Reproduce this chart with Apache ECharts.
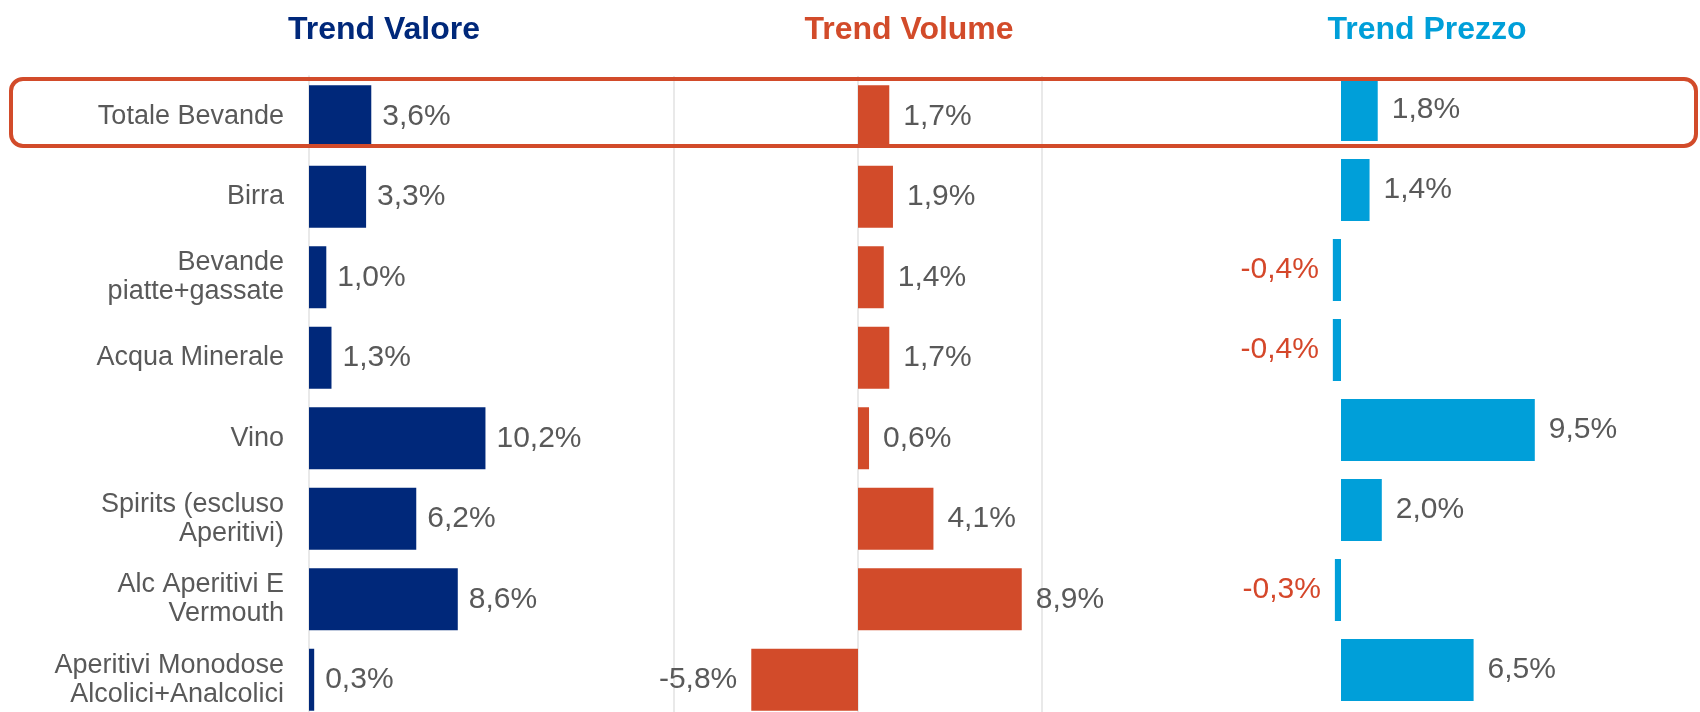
<!DOCTYPE html>
<html>
<head>
<meta charset="utf-8">
<script src="https://cdn.jsdelivr.net/npm/echarts@6/dist/echarts.min.js"></script>
<style>
  html, body { margin: 0; padding: 0; background: #fff; overflow: hidden; }
  /* il grafico sborda in basso come nell'originale: il contenitore e' piu' alto della pagina */
  #main { width: 1700px; height: 730px; }
</style>
</head>
<body>
<div id="main"></div>
<script>
// categorie e valori (%)
var categorie = ['Totale Bevande', 'Birra', 'Bevande\npiatte+gassate', 'Acqua Minerale', 'Vino',
  'Spirits (escluso\nAperitivi)', 'Alc Aperitivi E\nVermouth', 'Aperitivi Monodose\nAlcolici+Analcolici'];
var trendValore = [3.6, 3.3, 1.0, 1.3, 10.2, 6.2, 8.6, 0.3];
var trendVolume = [1.7, 1.9, 1.4, 1.7, 0.6, 4.1, 8.9, -5.8];
var trendPrezzo = [1.8, 1.4, -0.4, -0.4, 9.5, 2.0, -0.3, 6.5];
var titoli = ['Trend Valore', 'Trend Volume', 'Trend Prezzo'];

var FONT = "'Liberation Sans', Arial, sans-serif";
var GRIGIO = '#595959';
var colori = ['#00287a', '#d24b2a', '#009fd9'];

function fmt(v) {
  return v.toFixed(1).replace('.', ',') + '%';
}

// per i negativi etichetta a sinistra
function dati(arr, coloreNeg) {
  return arr.map(function (v) {
    return {
      value: v,
      label: {
        position: v < 0 ? 'left' : 'right',
        color: v < 0 && coloreNeg ? coloreNeg : GRIGIO
      }
    };
  });
}

var myChart = echarts.init(document.getElementById('main'));

function titolo(i, x) {
  return { text: titoli[i], left: x, top: 14, textAlign: 'center', padding: 0,
    textStyle: { color: colori[i], fontSize: 32, fontWeight: 'bold', fontFamily: FONT } };
}

var option = {
  backgroundColor: '#fff',
  animation: false,
  title: [titolo(0, 384), titolo(1, 909), titolo(2, 1427)],
  grid: [
    { left: 309, top: 76, width: 346, height: 644 },
    { left: 674, top: 76, width: 368, height: 644 },
    { left: 1239, top: 70, width: 306, height: 640 }
  ],
  xAxis: [
    { gridIndex: 0, type: 'value', min: 0, max: 20,
      axisLine: { show: false }, axisTick: { show: false }, axisLabel: { show: false },
      splitLine: { show: false } },
    { gridIndex: 1, type: 'value', min: -10, max: 10, interval: 10,
      axisLine: { show: false }, axisTick: { show: false }, axisLabel: { show: false },
      splitLine: { show: true, lineStyle: { color: '#e2e2e2', width: 1.5 } } },
    { gridIndex: 2, type: 'value', min: -5, max: 10,
      axisLine: { show: false }, axisTick: { show: false }, axisLabel: { show: false },
      splitLine: { show: false } }
  ],
  yAxis: [
    { gridIndex: 0, type: 'category', data: categorie, inverse: true,
      axisLine: { show: true, lineStyle: { color: '#e2e2e2', width: 1.5 } },
      axisTick: { show: false },
      axisLabel: { color: GRIGIO, fontSize: 27, fontFamily: FONT, margin: 25, lineHeight: 29, align: 'right' } },
    { gridIndex: 1, type: 'category', data: categorie, inverse: true,
      axisLine: { show: false }, axisTick: { show: false }, axisLabel: { show: false } },
    { gridIndex: 2, type: 'category', data: categorie, inverse: true,
      axisLine: { show: false }, axisTick: { show: false }, axisLabel: { show: false } }
  ],
  series: [
    { name: titoli[0], type: 'bar', xAxisIndex: 0, yAxisIndex: 0, barWidth: 62,
      data: dati(trendValore),
      itemStyle: { color: colori[0] },
      label: { show: true, distance: 11, fontSize: 30, fontFamily: FONT, color: GRIGIO,
        formatter: function (p) { return fmt(p.value); } } },
    { name: titoli[1], type: 'bar', xAxisIndex: 1, yAxisIndex: 1, barWidth: 62,
      data: dati(trendVolume),
      itemStyle: { color: colori[1] },
      label: { show: true, distance: 14, fontSize: 30, fontFamily: FONT, color: GRIGIO,
        formatter: function (p) { return fmt(p.value); } } },
    { name: titoli[2], type: 'bar', xAxisIndex: 2, yAxisIndex: 2, barWidth: 62,
      data: dati(trendPrezzo, '#d5472a'),
      itemStyle: { color: colori[2] },
      label: { show: true, distance: 14, fontSize: 30, fontFamily: FONT, color: GRIGIO,
        formatter: function (p) { return fmt(p.value); } } }
  ],
  graphic: [
    { type: 'rect', z: 100, silent: true,
      shape: { x: 11, y: 79, width: 1685, height: 67, r: 12 },
      style: { fill: 'none', stroke: '#d24b2a', lineWidth: 4 } }
  ]
};

myChart.setOption(option);
</script>
</body>
</html>
